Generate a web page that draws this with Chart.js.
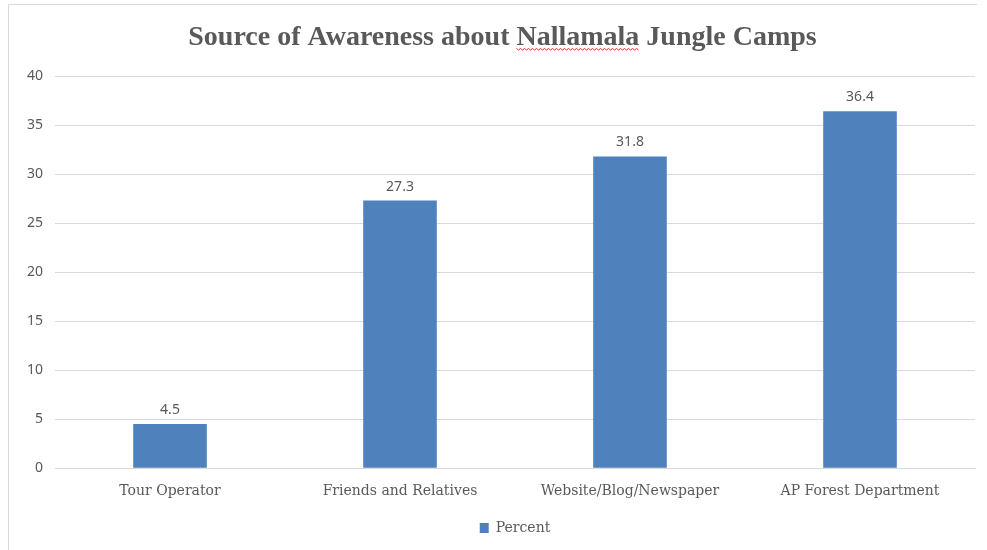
<!DOCTYPE html>
<html>
<head>
<meta charset="utf-8">
<script src="https://cdn.jsdelivr.net/npm/chart.js@4.4.1/dist/chart.umd.min.js"></script>
<style>
  html, body { margin: 0; padding: 0; background: #fff; }
  #box { width: 987px; height: 550px; position: relative; }
</style>
</head>
<body>
<div id="box"><canvas id="awarenessChart"></canvas></div>
<script>
// valores
const categories = ['Tour Operator', 'Friends and Relatives', 'Website/Blog/Newspaper', 'AP Forest Department'];
const percentValues = [4.5, 27.3, 31.8, 36.4];
const yTicks = [0, 5, 10, 15, 20, 25, 30, 35, 40];
const chartTitle = 'Source of Awareness about Nallamala Jungle Camps';

const textGray = '#595959';
const barBlue = '#4F81BD';
const titleFont = 'bold 28px "Liberation Serif"';

// moldura fina (topo e esquerda) como no print original
const framePlugin = {
    id: 'frame',
    beforeDraw(chart) {
        const ctx = chart.ctx;
        ctx.save();
        ctx.strokeStyle = '#d9d9d9';
        ctx.lineWidth = 1;
        ctx.beginPath();
        ctx.moveTo(8.5, 550);
        ctx.lineTo(8.5, 4.5);
        ctx.lineTo(977, 4.5);
        ctx.stroke();
        ctx.restore();
    }
};

// rótulos em cima das barras
const valueLabels = {
    id: 'valueLabels',
    afterDatasetsDraw(chart) {
        const ctx = chart.ctx;
        ctx.save();
        ctx.font = '14px "Noto Sans"';
        ctx.fillStyle = textGray;
        ctx.textAlign = 'center';
        ctx.textBaseline = 'bottom';
        chart.getDatasetMeta(0).data.forEach((bar, i) => {
            ctx.fillText(percentValues[i].toFixed(1), bar.x, bar.y - 7);
        });
        ctx.restore();
    }
};

// título desenhado à mão (fica um pouco à direita do centro no original)
// + sublinhado ondulado vermelho do corretor em "Nallamala"
const titlePlugin = {
    id: 'titleText',
    afterDraw(chart) {
        const ctx = chart.ctx;
        const cx = 502.5, baseY = 45;
        ctx.save();
        ctx.font = titleFont;
        ctx.fillStyle = textGray;
        ctx.textAlign = 'left';
        ctx.textBaseline = 'alphabetic';
        const total = ctx.measureText(chartTitle).width;
        const x0 = cx - total / 2;
        ctx.fillText(chartTitle, x0, baseY);

        const start = x0 + ctx.measureText('Source of Awareness about ').width;
        const w = ctx.measureText('Nallamala').width;
        const y = baseY + 3.5;
        ctx.strokeStyle = '#e03030';
        ctx.lineWidth = 1;
        ctx.beginPath();
        for (let x = 0; x <= w; x += 2) {
            const yy = y + ((x / 2) % 2 === 0 ? 0 : 1.5);
            if (x === 0) ctx.moveTo(start + x, yy); else ctx.lineTo(start + x, yy);
        }
        ctx.stroke();
        ctx.restore();
    }
};

const canvas = document.getElementById('awarenessChart');
new Chart(canvas, {
    type: 'bar',
    data: {
        labels: categories,
        datasets: [{
            label: 'Percent',
            data: percentValues,
            backgroundColor: barBlue,
            borderWidth: 0,
            categoryPercentage: 1,
            barPercentage: 0.32
        }]
    },
    options: {
        responsive: true,
        maintainAspectRatio: false,
        animation: false,
        layout: { padding: { left: 0, right: 12, top: 76, bottom: 5 } },
        plugins: {
            title: { display: false },
            legend: {
                position: 'bottom',
                fullSize: false,
                labels: {
                    color: textGray,
                    font: { family: 'DejaVu Serif', size: 14 },
                    boxWidth: 9,
                    boxHeight: 10,
                    padding: 11
                }
            },
            tooltip: { enabled: false }
        },
        scales: {
            y: {
                min: 0,
                max: 40,
                afterBuildTicks(scale) {
                    scale.ticks = yTicks.map(v => ({ value: v }));
                },
                afterFit(scale) { scale.width = 55; },
                border: { display: false },
                grid: { color: '#d9d9d9', drawTicks: false },
                ticks: {
                    color: textGray,
                    padding: 12,
                    font: { family: 'Noto Sans', size: 14 }
                }
            },
            x: {
                afterFit(scale) { scale.height += 3; },
                border: { color: '#d9d9d9' },
                grid: { display: false },
                ticks: {
                    color: textGray,
                    padding: 7,
                    font: { family: 'DejaVu Serif', size: 14 }
                }
            }
        }
    },
    plugins: [framePlugin, valueLabels, titlePlugin]
});
</script>
</body>
</html>
